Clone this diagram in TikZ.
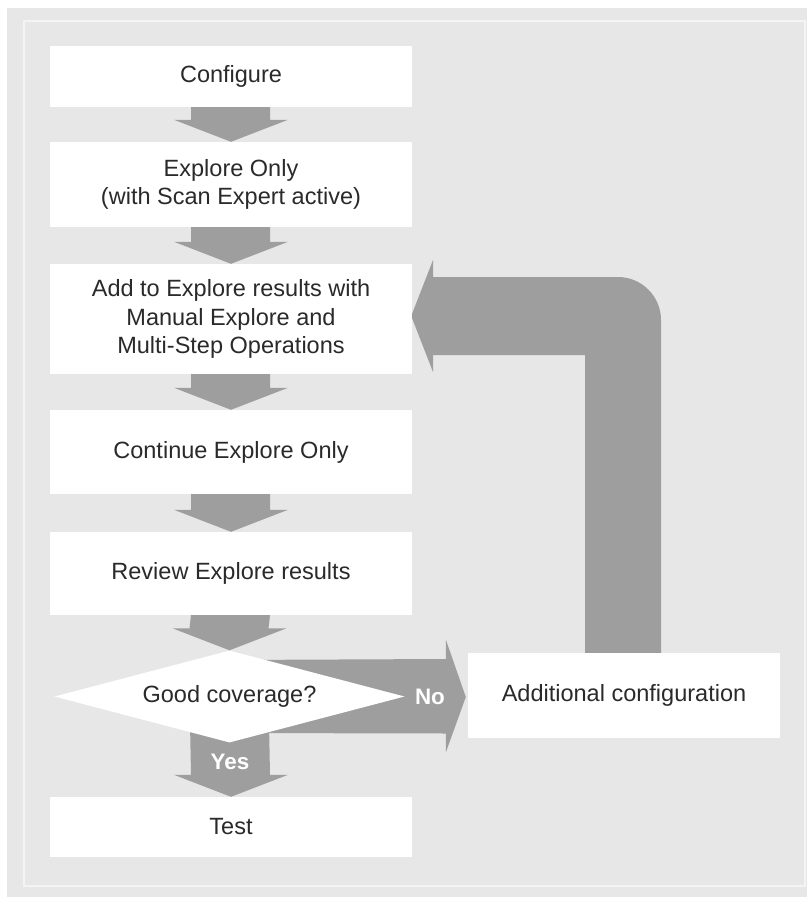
\documentclass[tikz,border=0pt]{standalone}
\usepackage{fontspec}
\setmainfont{Liberation Sans}
\usetikzlibrary{shapes.geometric,calc}
\definecolor{bggrey}{HTML}{E7E7E7}
\definecolor{arrowgrey}{HTML}{9E9E9E}
\definecolor{framegrey}{HTML}{F4F4F4}
\definecolor{txtgrey}{HTML}{2A2A2A}
\pgfdeclarelayer{background}
\pgfsetlayers{background,main}
\tikzset{
  stepbox/.style={fill=white, draw=none, minimum width=362bp, inner sep=0pt, align=center,
    text=txtgrey, font=\fontsize{23.6}{28.5}\selectfont},
  decision/.style={diamond, fill=white, draw=none, minimum width=350bp, minimum height=92bp,
    inner sep=0pt, aspect=3.8, text=txtgrey, font=\fontsize{23.6}{28.5}\selectfont},
  arrowfill/.style={fill=arrowgrey, draw=none},
  armlabel/.style={text=white, inner sep=0pt, font=\fontsize{22.5}{27}\selectfont\bfseries}
}
\begin{document}
\begin{tikzpicture}[x=1bp,y=-1bp]
\useasboundingbox (0,0) rectangle (807,897);
% nodes
\node[stepbox, minimum height=61bp] (configure) at (231,76.5) {Configure};
\node[stepbox, minimum height=85bp] (explore) at (231,184.5) {Explore Only\\(with Scan Expert active)};
\node[stepbox, minimum height=110bp] (add) at (231,319) {Add to Explore results with\\Manual Explore and\\Multi-Step Operations};
\node[stepbox, minimum height=84bp] (continue) at (231,452) {Continue Explore Only};
\node[stepbox, minimum height=83bp] (review) at (231,573.5) {Review Explore results};
\node[decision] (good) at (229.5,696.5) {Good coverage?};
\node[stepbox, minimum height=60bp] (test) at (231,827) {Test};
\node[stepbox, minimum width=312bp, minimum height=85bp] (addl) at (624,695.5) {Additional configuration};
% labels on arrows
\node[armlabel] (no) at (430,697) {No};
\node[armlabel] (yes) at (230,762) {Yes};
\begin{pgfonlayer}{background}
\fill[white] (0,0) rectangle (807,897);
\fill[bggrey] (7,8) rectangle (807,897);
\draw[framegrey, line width=2bp] (24,21) rectangle (805,886);
% straight block arrows downwards
\foreach \a/\b in {configure/explore, explore/add, add/continue, continue/review, review/good} {
  \fill[arrowfill] ($(\a.south)+(-40,0)$) -- ($(\b.north)+(-40,-22)$) -- ($(\b.north)+(-57,-22)$)
    -- (\b.north) -- ($(\b.north)+(57,-22)$) -- ($(\b.north)+(39,-22)$) -- ($(\a.south)+(39,0)$) -- cycle;
}
% Yes arrow
\fill[arrowfill] ($(good.center)+(-40,0)$) -- ($(test.north)+(-40,-22)$) -- ($(test.north)+(-57,-22)$)
  -- (test.north) -- ($(test.north)+(57,-22)$) -- ($(test.north)+(39,-22)$) -- ($(good.center)+(39,0)$) -- cycle;
% No arrow
\fill[arrowfill] ($(good.center)+(0,-36.5)$) -- ($(addl.west)+(-22,-36.5)$) -- ($(addl.west)+(-22,-56)$)
  -- ($(addl.west)+(-2,1.5)$) -- ($(addl.west)+(-22,57)$) -- ($(addl.west)+(-22,38)$) -- ($(good.center)+(0,36.5)$) -- cycle;
% loop arrow back to "Add to Explore results"
\fill[arrowfill] ($(addl.north)+(-39,0)$) -- (585,355) -- (433,355) -- (433,372)
  -- ($(add.east)+(-1,-3)$) -- (433,260) -- (433,277) -- (618,277)
  .. controls (641.7,277) and (661,296.3) .. (661,320) -- ($(addl.north)+(37,0)$) -- cycle;
\end{pgfonlayer}
\end{tikzpicture}
\end{document}
